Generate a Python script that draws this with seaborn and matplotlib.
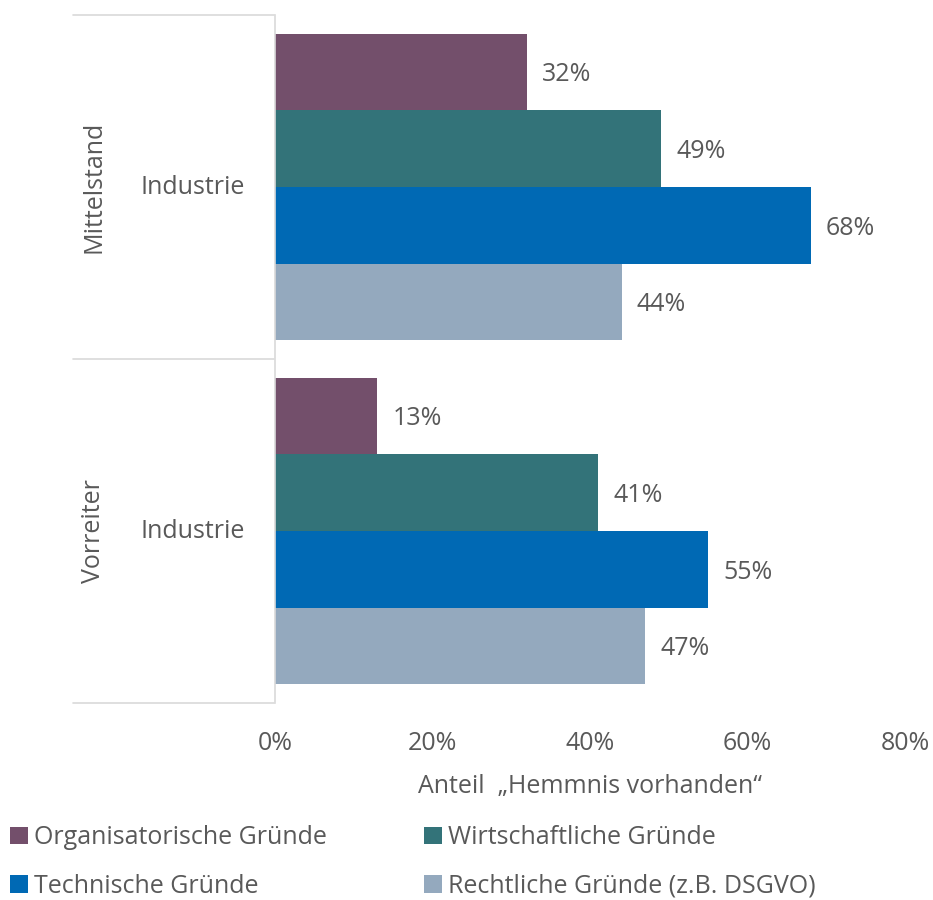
import matplotlib
matplotlib.use("Agg")
import matplotlib.pyplot as plt
from matplotlib.patches import Patch
from matplotlib.transforms import blended_transform_factory
import seaborn as sns
import pandas as pd

# Data
groups = ["Mittelstand", "Vorreiter"]
sector = ["Industrie", "Industrie"]
reasons = ["Organisatorische Gründe", "Wirtschaftliche Gründe",
           "Technische Gründe", "Rechtliche Gründe (z.B. DSGVO)"]
organisatorisch = [32, 13]
wirtschaftlich = [49, 41]
technisch = [68, 55]
rechtlich = [44, 47]
xticks = [0, 20, 40, 60, 80]

colors = ["#734F6B", "#337379", "#0069B4", "#94A9BE"]
text_col = "#595959"
line_col = "#D9D9D9"
FS = 18

rows = []
for gi, g in enumerate(groups):
    for r, vals in zip(reasons, [organisatorisch, wirtschaftlich, technisch, rechtlich]):
        rows.append({"Gruppe": g, "Grund": r, "Wert": vals[gi]})
df = pd.DataFrame(rows)

sns.set_theme(style="white")
plt.rcParams["font.family"] = ["Open Sans", "DejaVu Sans"]

fig = plt.figure(figsize=(9.33, 9.0), dpi=100)
W, H = 933, 900
ax = fig.add_axes([275 / W, 1 - 703 / H, 630 / W, 688 / H])

sns.barplot(data=df, y="Gruppe", x="Wert", hue="Grund", hue_order=reasons,
            order=groups, palette=colors, orient="h", width=0.89,
            saturation=1, ax=ax, legend=False, linewidth=0)

ax.set_xlim(0, 80)
ax.set_ylim(1.5, -0.5)
ax.set_xticks(xticks)
ax.set_xticklabels([f"{t}%" for t in xticks], fontsize=FS, color=text_col)
ax.tick_params(axis="x", length=0, pad=20)
ax.set_yticks([])
ax.set_ylabel("")
ax.set_xlabel("Anteil  „Hemmnis vorhanden“", fontsize=FS, color=text_col, labelpad=13)

for s in ["top", "right", "bottom"]:
    ax.spines[s].set_visible(False)
ax.spines["left"].set_color(line_col)
ax.spines["left"].set_linewidth(1.2)

# value labels
for cont in ax.containers:
    for bar in cont:
        v = bar.get_width()
        ax.annotate(f"{v:.0f}%", (v, bar.get_y() + bar.get_height() / 2),
                    xytext=(11, -2), textcoords="offset points",
                    ha="left", va="center", fontsize=FS, color=text_col)

# category table on the left
tr = blended_transform_factory(fig.transFigure, ax.transData)
x0, x1 = 73 / W, 274 / W
for yb in [-0.5, 0.5, 1.5]:
    ax.plot([x0, x1], [yb, yb], transform=tr, color=line_col, lw=1.2, clip_on=False)
for i, (g, s) in enumerate(zip(groups, sector)):
    ax.text(193 / W, i, s, transform=tr, ha="center", va="center",
            fontsize=FS, color=text_col)
    ax.text(94 / W, i, g, transform=tr, ha="center", va="center",
            rotation=90, fontsize=FS, color=text_col)

# legend, filled row by row
order = [0, 2, 1, 3]
handles = [Patch(facecolor=colors[i], edgecolor="none") for i in order]
labels = [reasons[i] for i in order]
fig.legend(handles, labels, loc="upper left", bbox_to_anchor=(0 / W, 1 - 815 / H),
           ncol=2, frameon=False, fontsize=FS, labelcolor=text_col,
           handlelength=0.7, handleheight=0.7, handletextpad=0.25,
           columnspacing=3.9, labelspacing=0.95, borderaxespad=0)

fig.savefig("out.png", dpi=100)
